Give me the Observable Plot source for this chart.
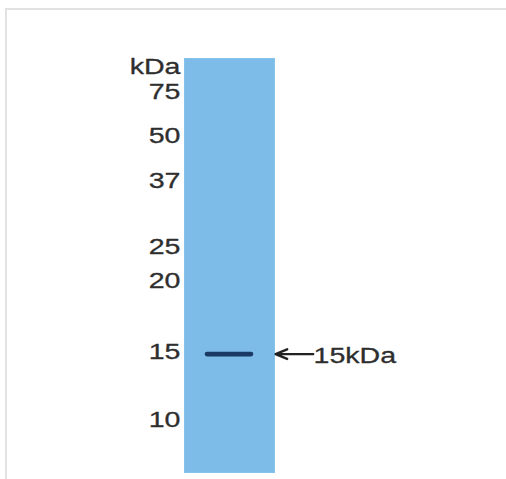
<!DOCTYPE html>
<html>
<head>
<meta charset="utf-8">
<script src="https://cdn.jsdelivr.net/npm/d3@7"></script>
<script src="https://cdn.jsdelivr.net/npm/@observablehq/plot@0.6"></script>
<style>
  html, body { margin: 0; padding: 0; background: #fff; }
  body { width: 506px; height: 479px; position: relative; overflow: hidden; }
  #frame { position: absolute; left: 5px; top: 8px; right: -10px; bottom: -10px;
           border-left: 2px solid #e2e2e2; border-top: 2px solid #e2e2e2; }
  #chart { position: absolute; left: 0; top: 0; }
</style>
</head>
<body>
<div id="frame"></div>
<div id="chart"></div>
<script>
// Marker ladder (kDa) and their relative migration (0 = top of lane, 1 = bottom)
const markerLabels = ["75", "50", "37", "25", "20", "15", "10"];
const markerKDa = [75, 50, 37, 25, 20, 15, 10];
const markerRf = [0.0795, 0.186, 0.296, 0.456, 0.538, 0.708, 0.873];
const unitLabel = ["kDa"];
const unitRf = [0.019];
// Detected band
const bandKDa = [15];
const bandRf = [0.714];
const bandFrom = [0.256];
const bandTo = [0.744];
const bandLabel = ["15kDa"];

const markers = markerKDa.map((k, i) => ({kda: k, label: markerLabels[i], rf: markerRf[i]}));
const unit = unitLabel.map((l, i) => ({label: l, rf: unitRf[i]}));
const bands = bandKDa.map((k, i) => ({kda: k, rf: bandRf[i], x1: bandFrom[i], x2: bandTo[i], label: bandLabel[i]}));

const font = "'Liberation Sans', Arial, sans-serif";
const textStyle = {fontSize: 22.5, fill: "#2e2e2e", stroke: "#2e2e2e", strokeWidth: 0.3};

const plot = Plot.plot({
  width: 506,
  height: 479,
  marginLeft: 184,
  marginRight: 232,
  marginTop: 58,
  marginBottom: 7,
  style: {fontFamily: font, background: "transparent", overflow: "visible"},
  x: {domain: [0, 1], axis: null},
  y: {domain: [0, 1], reverse: true, axis: null},
  marks: [
    Plot.frame({fill: "#7dbce8", stroke: "#86c2ea", strokeWidth: 1}),
    Plot.ruleY(bands, {y: "rf", x1: "x1", x2: "x2", stroke: "#1b3a63", strokeWidth: 4.8, strokeLinecap: "round"}),
    Plot.text(markers, {x: 0, y: "rf", text: "label", textAnchor: "end", lineAnchor: "middle", dx: -4, ...textStyle}),
    Plot.text(unit, {x: 0, y: "rf", text: "label", textAnchor: "end", lineAnchor: "middle", dx: -4, ...textStyle}),
    Plot.arrow(bands, {x1: 1.43, x2: 1.012, y1: "rf", y2: "rf", stroke: "#222", strokeWidth: 2.4, headLength: 10, headAngle: 45}),
    Plot.text(bands, {x: 1, y: "rf", text: "label", textAnchor: "start", lineAnchor: "middle", dx: 39, dy: 1.5, ...textStyle})
  ]
});
document.getElementById("chart").appendChild(plot);
// horizontally stretch labels (about their anchor point) to match reference glyph proportions
plot.querySelectorAll("g[aria-label='text'] text").forEach(t => {
  const tr = t.getAttribute("transform");
  if (tr) {
    t.setAttribute("transform", tr + " scale(1.27,1)");
  } else {
    const x = +(t.getAttribute("x") || 0), y = +(t.getAttribute("y") || 0);
    t.setAttribute("x", 0); t.setAttribute("y", 0);
    t.setAttribute("transform", `translate(${x},${y}) scale(1.27,1)`);
  }
});
</script>
</body>
</html>
